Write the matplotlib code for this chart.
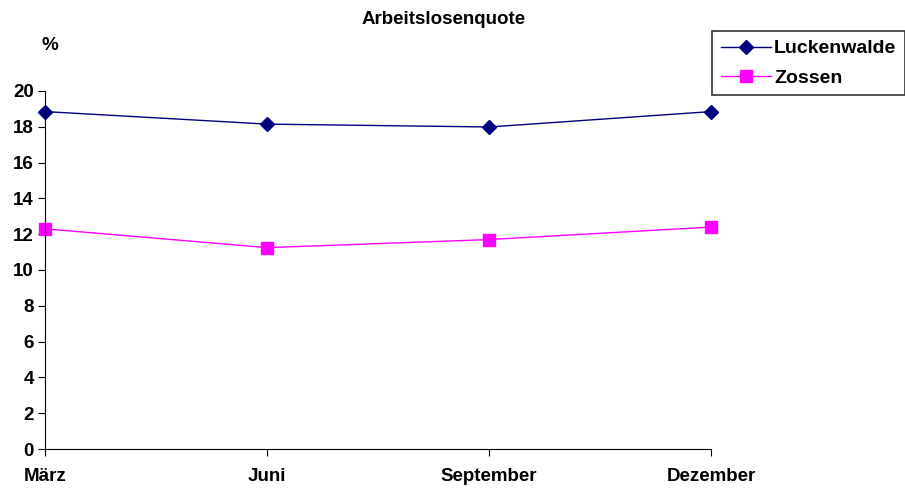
import matplotlib.pyplot as plt

plt.rcParams['font.family'] = ['Liberation Sans', 'DejaVu Sans']
plt.rcParams['font.weight'] = 'bold'

monate = ['März', 'Juni', 'September', 'Dezember']
luckenwalde = [18.85, 18.15, 17.99, 18.85]
zossen = [12.3, 11.25, 11.7, 12.4]

fig = plt.figure(figsize=(9.05, 4.93), dpi=100)
ax = fig.add_axes([45/905, 1-449/493, (711-45)/905, (449-91)/493])

x = list(range(len(monate)))
ax.plot(x, luckenwalde, color='#000080', marker='D', markersize=7, linewidth=1,
        label='Luckenwalde', clip_on=False)
ax.plot(x, zossen, color='#ff00ff', marker='s', markersize=9, linewidth=1,
        label='Zossen', clip_on=False)

ax.set_xlim(0, 3)
ax.set_ylim(0, 20)
ax.set_xticks(x)
ax.set_xticklabels(monate, fontsize=13.5, fontweight='bold')
ax.set_yticks(range(0, 21, 2))
ax.tick_params(axis='x', direction='out', length=5, pad=9)
ax.tick_params(axis='y', direction='out', length=5, pad=3, labelsize=13.5)
for lab in ax.get_yticklabels():
    lab.set_fontweight('bold')
ax.spines['top'].set_visible(False)
ax.spines['right'].set_visible(False)
ax.spines['left'].set_color('black')
ax.spines['bottom'].set_color('black')

fig.text(444/905, 1-20/493, 'Arbeitslosenquote', ha='center', va='center',
         fontsize=13.5, fontweight='bold')
fig.text(41/905, 1-45/493, '%', ha='left', va='center', fontsize=13.5, fontweight='bold')

leg = fig.legend(loc='upper left', bbox_to_anchor=(712/905, 1-31/493), fontsize=14,
                 frameon=True, fancybox=False, edgecolor='black', handlelength=2.6,
                 handletextpad=0.15, borderpad=0.45, labelspacing=0.6, borderaxespad=0)
leg.get_frame().set_linewidth(1.2)
for t in leg.get_texts():
    t.set_fontweight('bold')

fig.savefig('out.png', dpi=100)
